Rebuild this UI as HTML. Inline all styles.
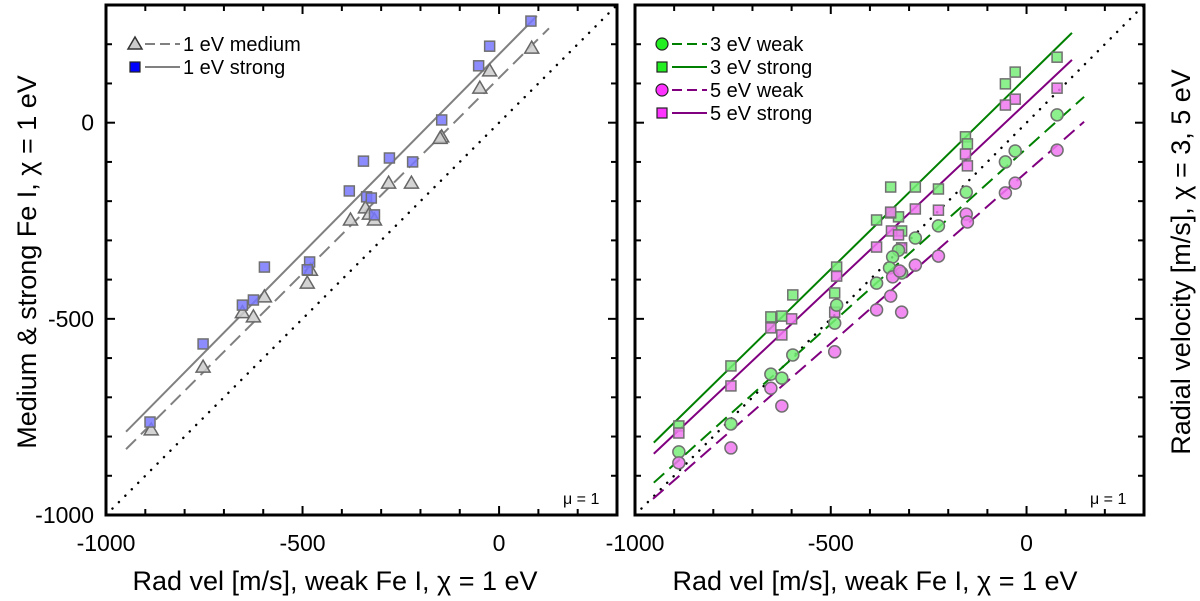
<!DOCTYPE html>
<html><head><meta charset="utf-8"><style>
body{margin:0;background:#fff;width:1200px;height:601px;overflow:hidden}
svg{display:block;font-family:"Liberation Sans",sans-serif}
</style></head><body>
<svg id="chart" width="1200" height="601" viewBox="0 0 1200 601" xmlns="http://www.w3.org/2000/svg">
<text transform="translate(36,262) rotate(-90)" text-anchor="middle" font-size="27">Medium &amp; strong Fe I, χ = 1 eV</text>
<text transform="translate(1190,262) rotate(-90)" text-anchor="middle" font-size="27">Radial velocity [m/s], χ = 3, 5 eV</text>
<text x="335" y="590" text-anchor="middle" font-size="27">Rad vel [m/s], weak Fe I, χ = 1 eV</text>
<text x="875" y="590" text-anchor="middle" font-size="27">Rad vel [m/s], weak Fe I, χ = 1 eV</text>
</svg>
<script>
// ---- data ----
const leftWeakX_medium = [83,-24,-49,-146,-150,-281,-223,-340,-330,-317,-378,-488,-480,-597,-653,-625,-753,-885];
const leftMedium      = [190,132,88,-36,-40,-154,-154,-217,-233,-248,-248,-409,-376,-444,-484,-495,-623,-783];
const leftWeakX_strong = [81,-24,-52,-146,-345,-279,-220,-381,-337,-325,-317,-482,-488,-597,-625,-653,-753,-888];
const leftStrong       = [259,195,145,7,-98,-90,-100,-174,-189,-192,-235,-355,-375,-368,-452,-465,-564,-763];

const gsX = [78,-29,-54,-156,-151,-347,-284,-225,-383,-327,-347,-319,-485,-490,-597,-653,-625,-755,-888];
const gsY = [167,129,99,-36,-54,-164,-164,-169,-248,-240,-230,-276,-368,-434,-439,-495,-493,-620,-773];
const psX = [78,-29,-54,-156,-151,-284,-225,-347,-345,-327,-319,-383,-485,-490,-653,-625,-600,-755,-888];
const psY = [88,60,45,-80,-110,-220,-223,-228,-276,-286,-319,-317,-391,-483,-523,-541,-500,-671,-791];
const gcX = [78,-29,-54,-154,-225,-284,-327,-342,-350,-319,-383,-485,-490,-597,-653,-625,-755,-888];
const gcY = [20,-72,-100,-177,-263,-294,-325,-342,-370,-383,-409,-465,-511,-592,-641,-651,-768,-839];
const pcX = [78,-29,-54,-154,-151,-225,-284,-342,-324,-347,-319,-383,-490,-653,-625,-755,-888];
const pcY = [-70,-154,-179,-233,-253,-340,-363,-393,-378,-442,-483,-477,-584,-677,-722,-829,-867];

// fits: slope, intercept, x-start, x-end
const fitNames  = ['left-strong','left-medium','3ev-strong','5ev-strong','3ev-weak','5ev-weak'];
const fitSlope  = [1.014,0.997,0.978,0.940,0.895,0.873];
const fitInter  = [174.6,114,115.5,51,-65.6,-126];
const fitX0     = [-949,-949,-952,-952,-952,-954];
const fitX1     = [96,127,116,116,147,147];

const xTicks = [-1000,-500,0];
const yTicks = [0,-500,-1000];
const VMIN=-1000, VMAX=300;

// ---- drawing ----
const svg=document.getElementById('chart');
const NS='http://www.w3.org/2000/svg';
function mk(tag,attrs,parent){const e=document.createElementNS(NS,tag);for(const k in attrs)e.setAttribute(k,attrs[k]);(parent||svg).appendChild(e);return e;}
const panels=[{x0:106,x1:617,name:'left'},{x0:635,x1:1144,name:'right'}];
const PY0=5,PY1=515;
function sx(p,v){return p.x0+(v-VMIN)/(VMAX-VMIN)*(p.x1-p.x0);}
function sy(v){return PY1-(v-VMIN)/(VMAX-VMIN)*(PY1-PY0);}

panels.forEach((p,i)=>{
  const g=mk('g',{});
  
  
  const cp=mk('clipPath',{id:'clip'+i},g);
  mk('rect',{x:p.x0,y:PY0,width:p.x1-p.x0,height:PY1-PY0},cp);
  p.g=g; p.clip='url(#clip'+i+')';
  for(let v=VMIN;v<=VMAX;v+=100){
    const major=(v%500===0), L=major?9:6;
    const X=sx(p,v), Y=sy(v);
    mk('line',{x1:X,y1:PY1,x2:X,y2:PY1-L,stroke:'#000','stroke-width':2},g);
    mk('line',{x1:X,y1:PY0,x2:X,y2:PY0+L,stroke:'#000','stroke-width':2},g);
    mk('line',{x1:p.x0,y1:Y,x2:p.x0+L,y2:Y,stroke:'#000','stroke-width':2},g);
    mk('line',{x1:p.x1,y1:Y,x2:p.x1-L,y2:Y,stroke:'#000','stroke-width':2},g);
  }
  xTicks.forEach(v=>{
    const t=mk('text',{x:sx(p,v),y:551,'text-anchor':'middle','font-size':23},g);
    
    
    t.textContent=v;
  });
  const d=mk('line',{x1:sx(p,VMIN),y1:sy(VMIN),x2:sx(p,VMAX),y2:sy(VMAX),stroke:'#000','stroke-width':2.4,'stroke-dasharray':'0.1 9','stroke-linecap':'round','clip-path':p.clip},g);
  
  
  const mu=mk('text',{x:p.x1-54,y:504,'font-size':16},g);
  
  
  mu.textContent='μ = 1';
});
const L=panels[0],R=panels[1];
yTicks.forEach(v=>{
  const t=mk('text',{x:94,y:sy(v)+8,'text-anchor':'end','font-size':23});
  
  
  t.textContent=v;
});

function fit(p,i,color,dash){
  const e=mk('line',{x1:sx(p,fitX0[i]),y1:sy(fitSlope[i]*fitX0[i]+fitInter[i]),x2:sx(p,fitX1[i]),y2:sy(fitSlope[i]*fitX1[i]+fitInter[i]),stroke:color,'stroke-width':2,'stroke-dasharray':dash||'none'},p.g);
  
  
}
function square(p,x,y,fill,name,s){s=s||10;const e=mk('rect',{x:sx(p,x)-s/2,y:sy(y)-s/2,width:s,height:s,fill:fill,stroke:'#707070','stroke-width':1.5,'fill-opacity':0.85},p.g);
  
  }
function circle(p,x,y,fill,name){const e=mk('circle',{cx:sx(p,x),cy:sy(y),r:6,fill:fill,stroke:'#707070','stroke-width':1.5,'fill-opacity':0.85},p.g);
  
  }
function tri(p,x,y,name){const X=sx(p,x),Y=sy(y);const e=mk('polygon',{points:`${X},${Y-7} ${X-7},${Y+5} ${X+7},${Y+5}`,fill:'#cccccc',stroke:'#666','stroke-width':1.5,'fill-opacity':0.85},p.g);
  
  }

fit(L,0,'#808080');
fit(L,1,'#808080','14 7');
leftWeakX_medium.forEach((x,i)=>tri(L,x,leftMedium[i],'medium-point'));
leftWeakX_strong.forEach((x,i)=>square(L,x,leftStrong[i],'#7878ff','strong-point'));
fit(R,2,'#008000');
fit(R,3,'#800080');
fit(R,4,'#008000','14 7');
fit(R,5,'#800080','14 7');
gsX.forEach((x,i)=>square(R,x,gsY[i],'#78ee78','3ev-strong-point'));
psX.forEach((x,i)=>square(R,x,psY[i],'#f078f0','5ev-strong-point'));
gcX.forEach((x,i)=>circle(R,x,gcY[i],'#78ee78','3ev-weak-point'));
pcX.forEach((x,i)=>circle(R,x,pcY[i],'#f078f0','5ev-weak-point'));

panels.forEach(p=>{
  const f=mk('rect',{x:p.x0,y:PY0,width:p.x1-p.x0,height:PY1-PY0,fill:'none',stroke:'#000','stroke-width':3});
  
  
});

function legend(x,y,marker,color,line,dash,label,name){
  const g=mk('g',{});
  
  
  if(marker==='tri')mk('polygon',{points:`${x},${y-7} ${x-7},${y+5} ${x+7},${y+5}`,fill:color,stroke:'#333','stroke-width':1.5},g);
  else if(marker==='sq')mk('rect',{x:x-5,y:y-5,width:10,height:10,fill:color,stroke:'#222','stroke-width':1.2},g);
  else mk('circle',{cx:x,cy:y,r:6,fill:color,stroke:'#222','stroke-width':1.2},g);
  mk('line',{x1:x+10,y1:y,x2:x+45,y2:y,stroke:line,'stroke-width':2,'stroke-dasharray':dash||'none'},g);
  const t=mk('text',{x:x+48,y:y+7,'font-size':20},g);t.textContent=label;
}
legend(135,44,'tri','#cccccc','#808080','10 5','1 eV medium','legend-1ev-medium');
legend(135,67,'sq','#0000ff','#808080',null,'1 eV strong','legend-1ev-strong');
legend(662,44,'circ','#22ee22','#008000','10 5','3 eV weak','legend-3ev-weak');
legend(662,67,'sq','#22ee22','#008000',null,'3 eV strong','legend-3ev-strong');
legend(662,90,'circ','#ff33ff','#800080','10 5','5 eV weak','legend-5ev-weak');
legend(662,113,'sq','#ff33ff','#800080',null,'5 eV strong','legend-5ev-strong');
</script>
</body></html>
